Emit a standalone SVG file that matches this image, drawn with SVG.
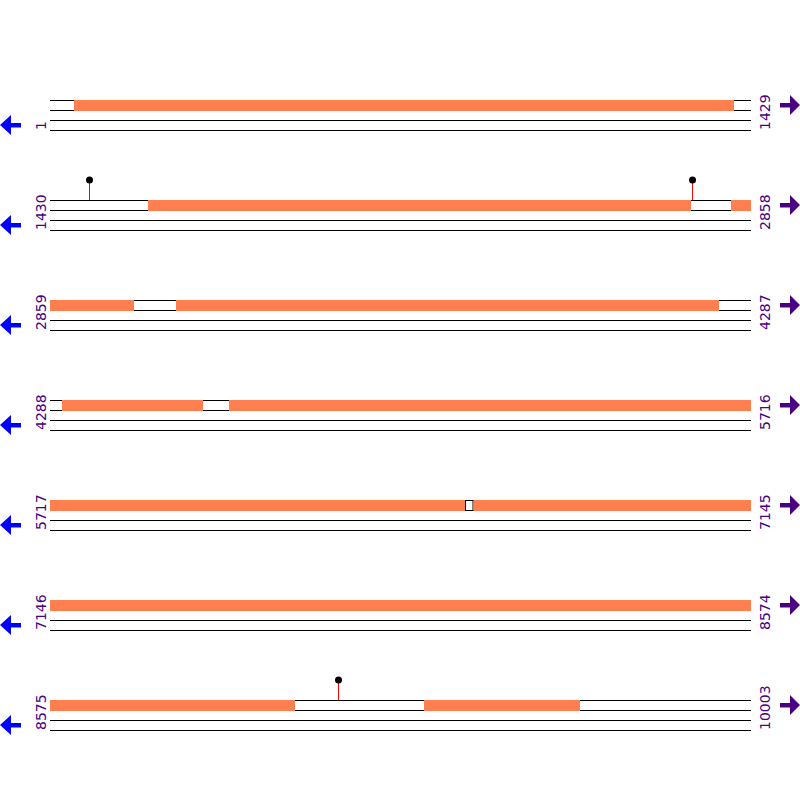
<svg xmlns="http://www.w3.org/2000/svg" width="800" height="800" viewBox="0 0 800 800">
<style>
.bg{fill:#ffffff}
.ln{stroke:#000000;stroke-width:1;fill:none}
.ft{fill:#FF7F50;stroke:none}
.gap{fill:#ffffff;stroke:#000000;stroke-width:1}
.lbl{font-family:"DejaVu Sans",sans-serif;font-size:14px;fill:#4B0082}
.la{fill:#0000FF}
.ra{fill:#4B0082}
.pin{stroke:#FF0000;stroke-width:1}
.pinh{fill:#000000}
</style>
<defs>
<g id="tracks">
<line class="ln" x1="50" y1="0.5" x2="751" y2="0.5"/>
<line class="ln" x1="50" y1="10.5" x2="751" y2="10.5"/>
<line class="ln" x1="50" y1="20.5" x2="751" y2="20.5"/>
<line class="ln" x1="50" y1="30.5" x2="751" y2="30.5"/>
</g>
<polygon id="larrow" class="la" points="0,25 11,15 11,23 21,23 21,27.5 11,27.5 11,35"/>
<polygon id="rarrow" class="ra" points="800,5 790,-5 790,3 780,3 780,7.5 790,7.5 790,15"/>
</defs>
<rect class="bg" x="0" y="0" width="800" height="800"/>

<g id="row1" transform="translate(0,100)">
<use href="#tracks"/>
<rect class="ft" x="74" y="0" width="660" height="11"/>
<text class="lbl" transform="translate(46,30) rotate(-90)">1</text>
<text class="lbl" transform="translate(770,30) rotate(-90)">1429</text>
<use href="#larrow"/><use href="#rarrow"/>
</g>

<g id="row2" transform="translate(0,200)">
<use href="#tracks"/>
<rect class="ft" x="148" y="0" width="543" height="11"/>
<rect class="ft" x="731" y="0" width="20" height="11"/>
<text class="lbl" transform="translate(46,30) rotate(-90)">1430</text>
<text class="lbl" transform="translate(770,30) rotate(-90)">2858</text>
<use href="#larrow"/><use href="#rarrow"/>
</g>

<g id="row3" transform="translate(0,300)">
<use href="#tracks"/>
<rect class="ft" x="50" y="0" width="84" height="11"/>
<rect class="ft" x="176" y="0" width="543" height="11"/>
<text class="lbl" transform="translate(46,30) rotate(-90)">2859</text>
<text class="lbl" transform="translate(770,30) rotate(-90)">4287</text>
<use href="#larrow"/><use href="#rarrow"/>
</g>

<g id="row4" transform="translate(0,400)">
<use href="#tracks"/>
<rect class="ft" x="62" y="0" width="141" height="11"/>
<rect class="ft" x="229" y="0" width="522" height="11"/>
<text class="lbl" transform="translate(46,30) rotate(-90)">4288</text>
<text class="lbl" transform="translate(770,30) rotate(-90)">5716</text>
<use href="#larrow"/><use href="#rarrow"/>
</g>

<g id="row5" transform="translate(0,500)">
<use href="#tracks"/>
<rect class="ft" x="50" y="0" width="415" height="11"/>
<rect class="gap" x="465.5" y="0.5" width="7.5" height="10"/>
<rect class="ft" x="473.5" y="0" width="277.5" height="11"/>
<text class="lbl" transform="translate(46,30) rotate(-90)">5717</text>
<text class="lbl" transform="translate(770,30) rotate(-90)">7145</text>
<use href="#larrow"/><use href="#rarrow"/>
</g>

<g id="row6" transform="translate(0,600)">
<use href="#tracks"/>
<rect class="ft" x="50" y="0" width="701" height="11"/>
<text class="lbl" transform="translate(46,30) rotate(-90)">7146</text>
<text class="lbl" transform="translate(770,30) rotate(-90)">8574</text>
<use href="#larrow"/><use href="#rarrow"/>
</g>

<g id="row7" transform="translate(0,700)">
<use href="#tracks"/>
<rect class="ft" x="50" y="0" width="245" height="11"/>
<rect class="ft" x="424" y="0" width="156" height="11"/>
<text class="lbl" transform="translate(46,30) rotate(-90)">8575</text>
<text class="lbl" transform="translate(770,30) rotate(-90)">10003</text>
<use href="#larrow"/><use href="#rarrow"/>
</g>

<g id="pins">
<line class="pin" x1="89.5" y1="182" x2="89.5" y2="200"/>
<circle class="pinh" cx="89.5" cy="180" r="3.5"/>
<line class="pin" x1="692.5" y1="182" x2="692.5" y2="200"/>
<circle class="pinh" cx="692.5" cy="180" r="3.5"/>
<line class="pin" x1="338.5" y1="682" x2="338.5" y2="700"/>
<circle class="pinh" cx="338.5" cy="680" r="3.5"/>
</g>
</svg>
